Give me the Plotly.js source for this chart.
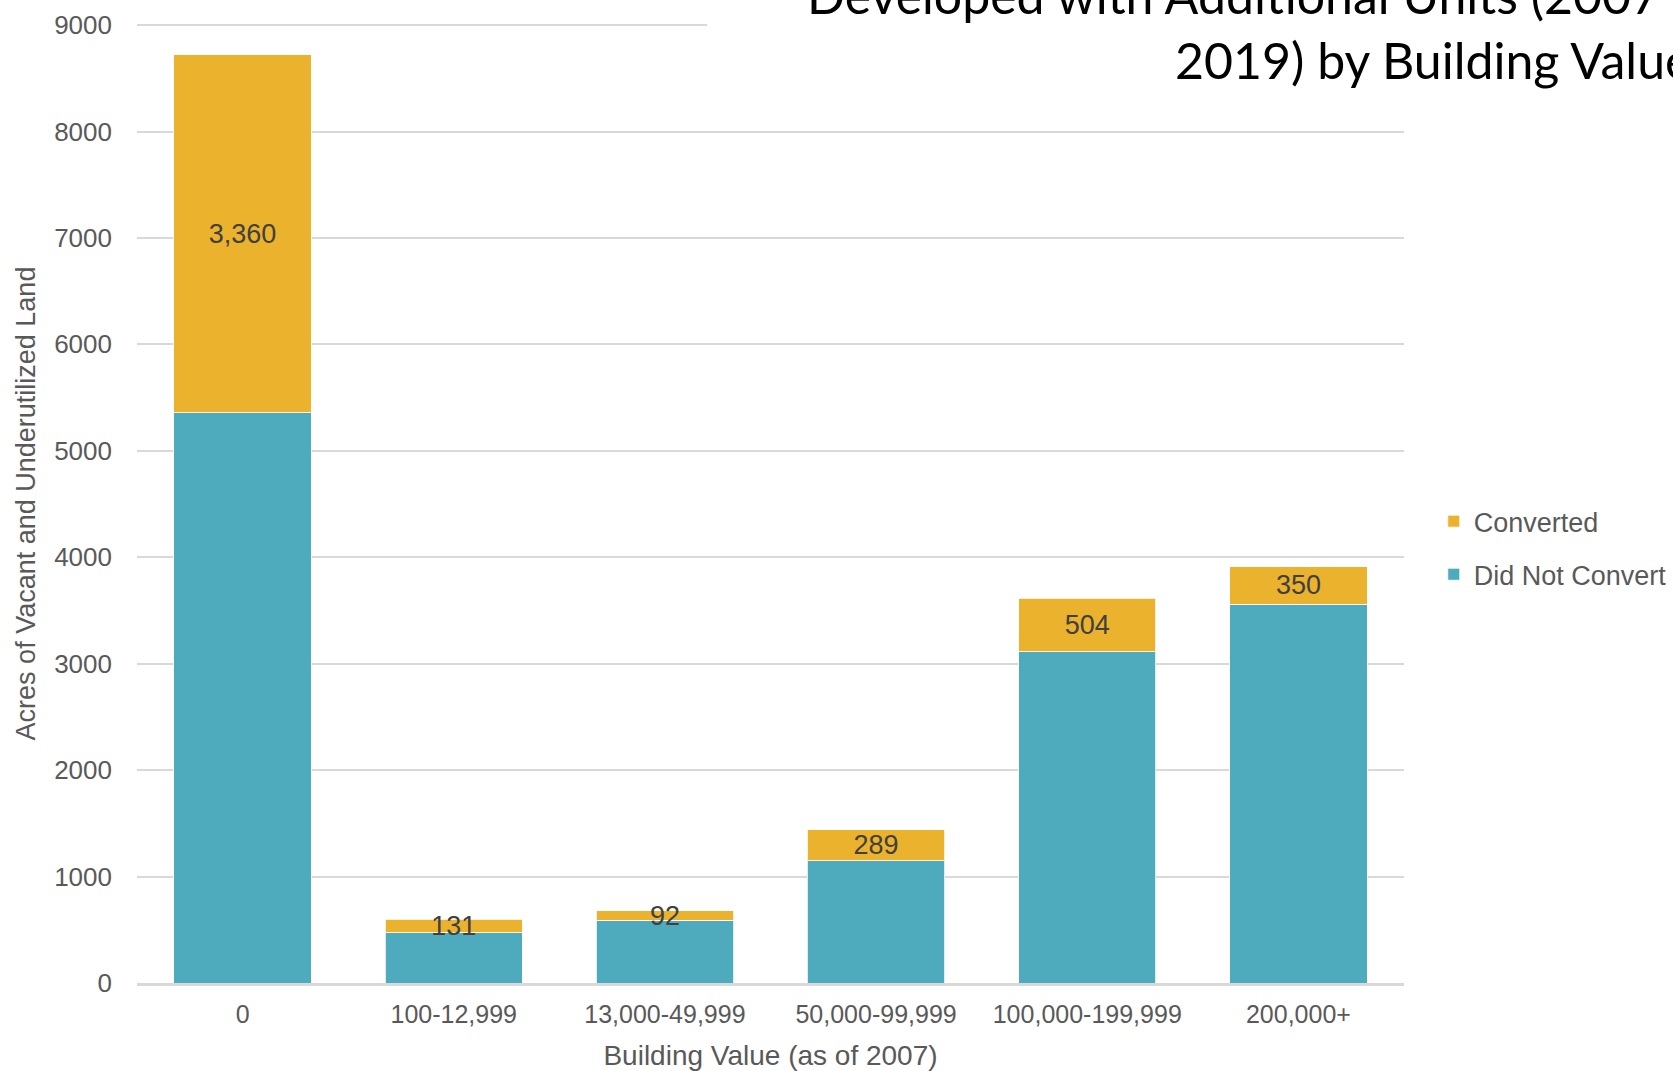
<!DOCTYPE html>
<html>
<head>
<meta charset="utf-8">
<script src="https://cdn.plot.ly/plotly-3.0.1.min.js"></script>
<style>html,body{margin:0;padding:0;background:#fff;}#chart{width:1673px;height:1071px;}</style>
</head>
<body>
<div id="chart"></div>
<script>
// ---- data ----
const categories = ["0", "100-12,999", "13,000-49,999", "50,000-99,999", "100,000-199,999", "200,000+"];
const didNotConvert = [5360, 470, 588, 1150, 3110, 3560];
const converted = [3360, 131, 92, 289, 504, 350];
const convertedLabels = ["3,360", "131", "92", "289", "504", "350"];
const yTickVals = [0, 1000, 2000, 3000, 4000, 5000, 6000, 7000, 8000, 9000];

const BLUE = "#4EAABD";
const ORANGE = "#EBB22D";
const GRID = "#D9D9D9";
const TICK = "#595959";
const FONT = "Liberation Sans, Arial, sans-serif";

const traces = [
  {
    type: "bar", name: "Did Not Convert", x: categories, y: didNotConvert,
    marker: {color: BLUE, line: {color: "rgba(255,255,255,0.8)", width: 1}},
    width: 0.65, legendgroup: "b", legendrank: 2, hoverinfo: "skip"
  },
  {
    type: "bar", name: "Converted", x: categories, y: converted,
    text: convertedLabels, textposition: "inside", insidetextanchor: "middle",
    constraintext: "none", textangle: 0, cliponaxis: false,
    insidetextfont: {family: FONT, size: 27, color: "#404040"},
    textfont: {family: FONT, size: 27, color: "#404040"},
    marker: {color: ORANGE, line: {color: "rgba(255,255,255,0.8)", width: 1}},
    width: 0.65, legendgroup: "a", legendrank: 1, hoverinfo: "skip"
  }
];

const layout = {
  width: 1673, height: 1071,
  margin: {l: 137, r: 269, t: 24, b: 88, autoexpand: false},
  paper_bgcolor: "#fff", plot_bgcolor: "#fff",
  barmode: "stack",
  showlegend: true,
  legend: {
    x: 1.0235, xanchor: "left", y: 0.4535, yanchor: "middle",
    traceorder: "grouped", tracegroupgap: 15,
    font: {family: FONT, size: 27, color: TICK},
    bgcolor: "rgba(0,0,0,0)"
  },
  xaxis: {
    type: "category",
    showgrid: false, showline: true, linecolor: GRID, linewidth: 2.5,
    ticks: "", ticklabelstandoff: 7,
    tickfont: {family: FONT, size: 25, color: TICK},
    title: {text: "Building Value (as of 2007)", standoff: 20,
            font: {family: FONT, size: 28, color: TICK}},
    fixedrange: true
  },
  yaxis: {
    range: [0, 9010], tickvals: yTickVals, tickformat: "d",
    showgrid: true, gridcolor: GRID, gridwidth: 2,
    zeroline: false, showline: false,
    ticks: "", ticklabelstandoff: 24,
    tickfont: {family: FONT, size: 26, color: TICK},
    title: {text: "Acres of Vacant and Underutilized Land", standoff: 10,
            font: {family: FONT, size: 27, color: TICK}},
    fixedrange: true
  },
  shapes: [
    {type: "rect", xref: "paper", yref: "paper", x0: 0.45, x1: 1.01, y0: 0.99, y1: 1.01,
     fillcolor: "#fff", line: {width: 0}, layer: "above"}
  ],
  annotations: [
    {
      xref: "paper", yref: "paper", x: 1.228, y: 0.929, xanchor: "right", yanchor: "bottom",
      align: "right", showarrow: false,
      text: "Developed with Additional Units (2007 -<br>2019) by Building Value",
      font: {family: "Lato, Open Sans, sans-serif", size: 50, color: "#000"}
    }
  ]
};

Plotly.newPlot("chart", traces, layout, {staticPlot: true, displayModeBar: false});
</script>
</body>
</html>
